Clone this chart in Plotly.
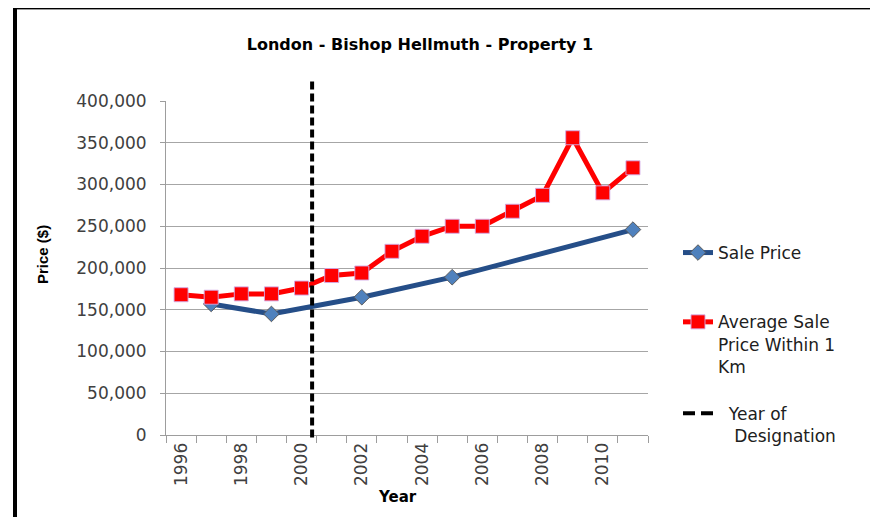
import plotly.graph_objects as go

# --- data ---
years = list(range(1996, 2012))

sale_price = [None, 157000, None, 145000, None, None, 165000, None, None,
              189000, None, None, None, None, None, 246000]

avg_price_1km = [168000, 165000, 169000, 169000, 176000, 191000, 194000, 220000,
                 238000, 250000, 250000, 268000, 287000, 356000, 290000, 320000]

designation_year = 2000.35

tick_years = [1996, 1998, 2000, 2002, 2004, 2006, 2008, 2010]
y_ticks = [0, 50000, 100000, 150000, 200000, 250000, 300000, 350000, 400000]

# --- layout geometry (pixels, page body adds an 8px offset) ---
W, H = 870, 509
L, R, T, B = 158, 230, 93, 82
x_range = [1995.5, 2011.5]
y_range = [0, 400000]
pw, ph = W - L - R, H - T - B


def px_x(p):
    return (p - L) / pw


def px_y(p):
    return (H - B - p) / ph


font_main = "DejaVu Sans"

fig = go.Figure()

fig.add_trace(go.Scatter(
    x=years, y=sale_price, name="Sale Price<br> <br> ",
    mode="lines+markers", connectgaps=True,
    line=dict(color="#254E88", width=5),
    marker=dict(symbol="diamond", size=12, color="#4F81BD",
                line=dict(color="#5A5A5A", width=1)),
))

fig.add_trace(go.Scatter(
    x=years, y=avg_price_1km, name="Average Sale<br>Price Within 1<br>Km<br> ",
    mode="lines+markers",
    line=dict(color="#FF0000", width=5),
    marker=dict(symbol="square", size=14, color="#FF0000",
                line=dict(color="rgba(210,170,230,0.9)", width=1)),
))

# legend entry for the designation line
fig.add_trace(go.Scatter(
    x=[None], y=[None], mode="lines",
    name="\u00a0\u00a0Year of<br>\u00a0\u00a0\u00a0Designation",
    line=dict(color="black", width=4, dash="12px,6px"),
))

# vertical designation line (extends above plot area)
dx = (designation_year - x_range[0]) / (x_range[1] - x_range[0])
fig.add_shape(type="line", xref="paper", yref="paper",
              x0=dx, x1=dx, y0=-3000 / y_range[1], y1=427500 / y_range[1],
              line=dict(color="black", width=4, dash="8px,4px"))

# outer frame of the clipped slide
fig.add_shape(type="line", xref="paper", yref="paper",
              x0=px_x(5), x1=px_x(W + 5), y0=px_y(0), y1=px_y(0),
              line=dict(color="black", width=2))
fig.add_shape(type="line", xref="paper", yref="paper",
              x0=px_x(9), x1=px_x(W + 5), y0=px_y(1.5), y1=px_y(1.5),
              line=dict(color="#9A9A9A", width=1))
fig.add_shape(type="line", xref="paper", yref="paper",
              x0=px_x(7), x1=px_x(7), y0=px_y(-2), y1=px_y(H + 5),
              line=dict(color="black", width=4))

# axis titles placed like the original
fig.add_annotation(text="<b>Year</b>", xref="paper", yref="paper",
                   x=px_x(389), y=px_y(489), xanchor="center", yanchor="middle",
                   showarrow=False,
                   font=dict(family=font_main, size=15, color="black"))
fig.add_annotation(text="<b>Price ($)</b>", xref="paper", yref="paper",
                   x=px_x(34), y=px_y(247), xanchor="center", yanchor="middle",
                   textangle=-90, showarrow=False,
                   font=dict(family="Liberation Sans", size=15, color="black"))

fig.update_layout(
    width=W, height=H,
    margin=dict(l=L, r=R, t=T, b=B),
    paper_bgcolor="white", plot_bgcolor="white",
    font=dict(family=font_main, color="#404040"),
    title=dict(text="<b>London - Bishop Hellmuth - Property 1</b>",
               x=px_x(412), xanchor="center", xref="paper",
               y=1 - 36 / H, yanchor="middle",
               font=dict(family=font_main, size=16, color="black")),
    showlegend=True,
    legend=dict(x=px_x(670), y=px_y(227), xanchor="left", yanchor="top",
                valign="top", bgcolor="rgba(0,0,0,0)",
                font=dict(family=font_main, size=17, color="#202020")),
    xaxis=dict(range=x_range, tickvals=tick_years, ticks="",
               tickangle=-90, tickfont=dict(size=17, color="#404040"),
               showgrid=False, zeroline=False,
               showline=True, linecolor="#9D9D9D", linewidth=1,
               minor=dict(tickvals=[y - 0.5 for y in years] + [2011.5],
                          ticks="outside", ticklen=7, tickcolor="#9D9D9D")),
    yaxis=dict(range=y_range, tickvals=y_ticks, tickformat=",d",
               ticks="outside", ticklen=5, tickcolor="#9D9D9D",
               ticklabelstandoff=10,
               tickfont=dict(size=17, color="#404040"),
               showgrid=True, gridcolor="#A6A6A6", gridwidth=1,
               zeroline=False, showline=True, linecolor="#9D9D9D", linewidth=1),
)

fig.write_html("out.html")
